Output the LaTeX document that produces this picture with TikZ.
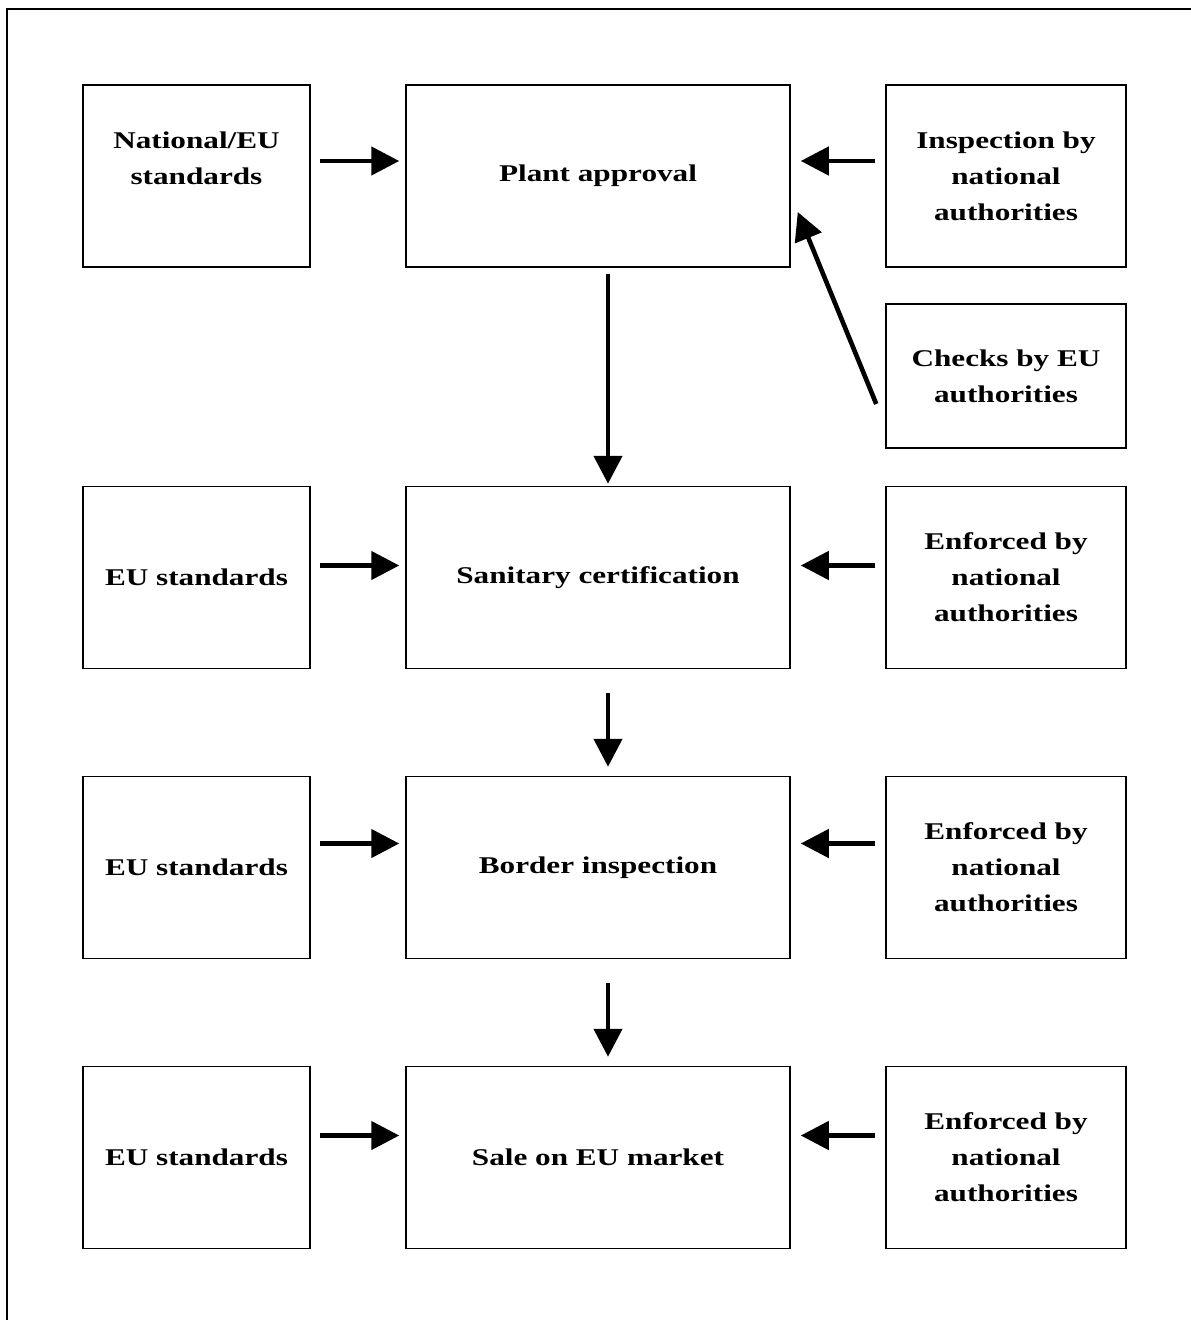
\documentclass[tikz,border=0pt]{standalone}
\usepackage{fontspec}
\setmainfont[FakeStretch=1.3]{Liberation Serif}
\usetikzlibrary{arrows.meta}
\tikzset{
  box/.style={draw, line width=0.75pt, align=center, inner sep=0pt,
    font=\fontsize{12pt}{18pt}\selectfont\bfseries},
  lbox/.style={box, minimum width=113.5pt, minimum height=91pt},
  mbox/.style={box, minimum width=192pt, minimum height=91pt},
  rbox/.style={box, minimum width=120pt, minimum height=91pt},
  arr/.style={line width=2.3pt, -{Triangle[length=14pt,width=14pt]}},
  frame/.style={line width=0.7pt}
}
\begin{document}
\begin{tikzpicture}[x=0.5pt, y=-0.5pt]
\useasboundingbox (0,0) rectangle (1190,1320);
\fill[white] (0,0) rectangle (1190,1320);
\coordinate (fa) at (1200,9);
\coordinate (fb) at (7,9);
\coordinate (fc) at (7,1330);
\draw[frame] (fa) -- (fb) -- (fc);

% row 1
\node[lbox] (l1) at (196.5,176) {National/EU\\standards\\\mbox{}};
\node[mbox] (m1) at (598,176) {Plant approval};
\node[rbox] (r1) at (1006,176) {Inspection by\\national\\authorities};
\node[rbox, minimum height=72pt] (c1) at (1006,376) {Checks by EU\\authorities};
% row 2
\node[lbox] (l2) at (196.5,577.5) {EU standards};
\node[mbox] (m2) at (598,577.5) {Sanitary certification};
\node[rbox] (r2) at (1006,577.5) {Enforced by\\national\\authorities};
% row 3
\node[lbox] (l3) at (196.5,867.5) {EU standards};
\node[mbox] (m3) at (598,867.5) {Border inspection};
\node[rbox] (r3) at (1006,867.5) {Enforced by\\national\\authorities};
% row 4
\node[lbox] (l4) at (196.5,1157.5) {EU standards};
\node[mbox] (m4) at (598,1157.5) {Sale on EU market};
\node[rbox] (r4) at (1006,1157.5) {Enforced by\\national\\authorities};

% horizontal arrows
\draw[arr] ([xshift=4.5pt,yshift=7.5pt]l1.east) -- ([xshift=-3pt,yshift=7.5pt]m1.west);
\draw[arr] ([xshift=-5pt,yshift=7.5pt]r1.west) -- ([xshift=5pt,yshift=7.5pt]m1.east);
\draw[arr] ([xshift=4.5pt,yshift=6pt]l2.east) -- ([xshift=-3pt,yshift=6pt]m2.west);
\draw[arr] ([xshift=-5pt,yshift=6pt]r2.west) -- ([xshift=5pt,yshift=6pt]m2.east);
\draw[arr] ([xshift=4.5pt,yshift=12pt]l3.east) -- ([xshift=-3pt,yshift=12pt]m3.west);
\draw[arr] ([xshift=-5pt,yshift=12pt]r3.west) -- ([xshift=5pt,yshift=12pt]m3.east);
\draw[arr] ([xshift=4.5pt,yshift=11pt]l4.east) -- ([xshift=-3pt,yshift=11pt]m4.west);
\draw[arr] ([xshift=-5pt,yshift=11pt]r4.west) -- ([xshift=5pt,yshift=11pt]m4.east);

% vertical arrows
\draw[arr] ([xshift=5pt,yshift=-3pt]m1.south) -- ([xshift=5pt,yshift=1pt]m2.north);
\draw[arr] ([xshift=5pt,yshift=-12pt]m2.south) -- ([xshift=5pt,yshift=4.5pt]m3.north);
\draw[arr] ([xshift=5pt,yshift=-12pt]m3.south) -- ([xshift=5pt,yshift=4.5pt]m4.north);

% diagonal arrow
\draw[arr] ([xshift=-4.5pt,yshift=-14pt]c1.west) -- ([xshift=3.5pt,yshift=-18pt]m1.east);
\end{tikzpicture}
\end{document}
